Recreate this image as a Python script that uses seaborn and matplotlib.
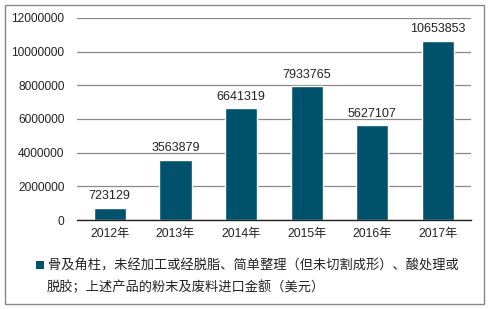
import matplotlib
matplotlib.use("Agg")
import matplotlib.pyplot as plt
import seaborn as sns
import pandas as pd
from matplotlib.patches import Rectangle

years = ["2012年", "2013年", "2014年", "2015年", "2016年", "2017年"]
values = [723129, 3563879, 6641319, 7933765, 5627107, 10653853]
yticks = [0, 2000000, 4000000, 6000000, 8000000, 10000000, 12000000]
series_lines = ["骨及角柱，未经加工或经脱脂、简单整理（但未切割成形）、酸处理或",
                "脱胶；上述产品的粉末及废料进口金额（美元）"]

sns.set_theme(style="white")
plt.rcParams['font.family'] = ['Liberation Sans', 'Noto Sans CJK SC']

df = pd.DataFrame({"year": years, "value": values})
color = "#00516C"
txt = "#222222"

fig = plt.figure(figsize=(4.9, 3.09), dpi=100)
ax = fig.add_axes([0.157, 0.288, 0.804, 0.654])
sns.barplot(data=df, x="year", y="value", color=color, width=0.49, saturation=1, ax=ax)

ax.set_ylim(0, 12000000)
ax.set_yticks(yticks)
ax.set_yticklabels([str(v) for v in yticks], fontsize=8.6, color=txt)
ax.tick_params(axis='x', labelsize=8.8, colors=txt, length=0, pad=6)
ax.tick_params(axis='y', length=0, pad=9)
ax.set_xlabel("")
ax.set_ylabel("")
ax.yaxis.grid(True, color="#888888", linewidth=0.9)
ax.set_axisbelow(True)
for s in ["top", "right", "left"]:
    ax.spines[s].set_visible(False)
ax.spines["bottom"].set_color(txt)
ax.spines["bottom"].set_linewidth(1.0)

for p, v in zip(ax.patches, values):
    ax.annotate(str(v), (p.get_x() + p.get_width() / 2, p.get_height()),
                xytext=(0, 4), textcoords="offset points",
                ha="center", va="bottom", fontsize=9, color=txt)

# legend (manual, to match the two-line layout)
fig.patches.append(Rectangle((0.0735, 0.129), 0.0163, 0.0259, transform=fig.transFigure,
                             facecolor=color, edgecolor="none"))
fig.text(0.098, 0.139, series_lines[0], fontsize=9.5, color=txt, ha="left", va="center")
fig.text(0.096, 0.071, series_lines[1], fontsize=9.5, color=txt, ha="left", va="center")

border = Rectangle((0.01, 0.015), 0.978, 0.97, transform=fig.transFigure,
                   fill=False, edgecolor="#888888", linewidth=1.0)
fig.patches.append(border)

fig.savefig("out.png", dpi=100)
